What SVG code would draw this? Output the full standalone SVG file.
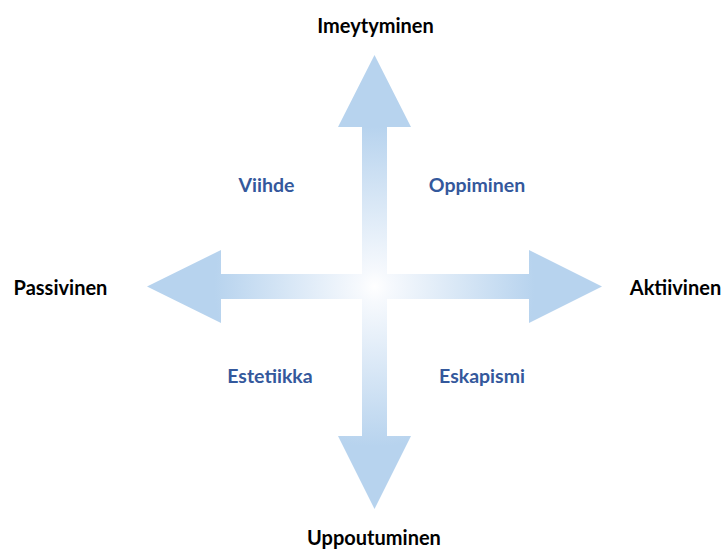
<svg xmlns="http://www.w3.org/2000/svg" width="725" height="549" viewBox="0 0 725 549">
<style>
.axis{font-family:Lato,"Open Sans","Liberation Sans",sans-serif;font-weight:bold;font-size:20px;fill:#000;text-anchor:middle}
.quad{font-family:Lato,"Open Sans","Liberation Sans",sans-serif;font-weight:bold;font-size:19.5px;fill:#34589c;text-anchor:middle}
</style>
<defs>
<radialGradient id="g" gradientUnits="userSpaceOnUse" cx="374.5" cy="286.5" r="160">
<stop offset="0" stop-color="#ffffff"/>
<stop offset="0.1" stop-color="#f6f9fd"/>
<stop offset="1" stop-color="#b7d3ee"/>
</radialGradient>
</defs>
<rect width="725" height="549" fill="#fff"/>
<g id="connectors">
<path id="cross-arrows" fill="url(#g)" d="M374.5 55 L411 127 L387 127 L387 274 L529 274 L529 250 L602 286.5 L529 323 L529 299 L387 299 L387 436 L411 436 L374.5 509 L338 436 L362 436 L362 299 L221 299 L221 323 L147 286.5 L221 250 L221 274 L362 274 L362 127 L338 127 Z"/>
</g>
<g id="node-imeytyminen"><text class="axis" x="375.5" y="33">Imeytyminen</text></g>
<g id="node-uppoutuminen"><text class="axis" x="374" y="545">Uppoutuminen</text></g>
<g id="node-passivinen"><text class="axis" x="60.5" y="295">Passivinen</text></g>
<g id="node-aktiivinen"><text class="axis" x="675.5" y="295">Aktiivinen</text></g>
<g id="node-viihde"><text class="quad" x="266.5" y="192">Viihde</text></g>
<g id="node-oppiminen"><text class="quad" x="477" y="192">Oppiminen</text></g>
<g id="node-estetiikka"><text class="quad" x="270" y="383">Estetiikka</text></g>
<g id="node-eskapismi"><text class="quad" x="482" y="383">Eskapismi</text></g>
</svg>
